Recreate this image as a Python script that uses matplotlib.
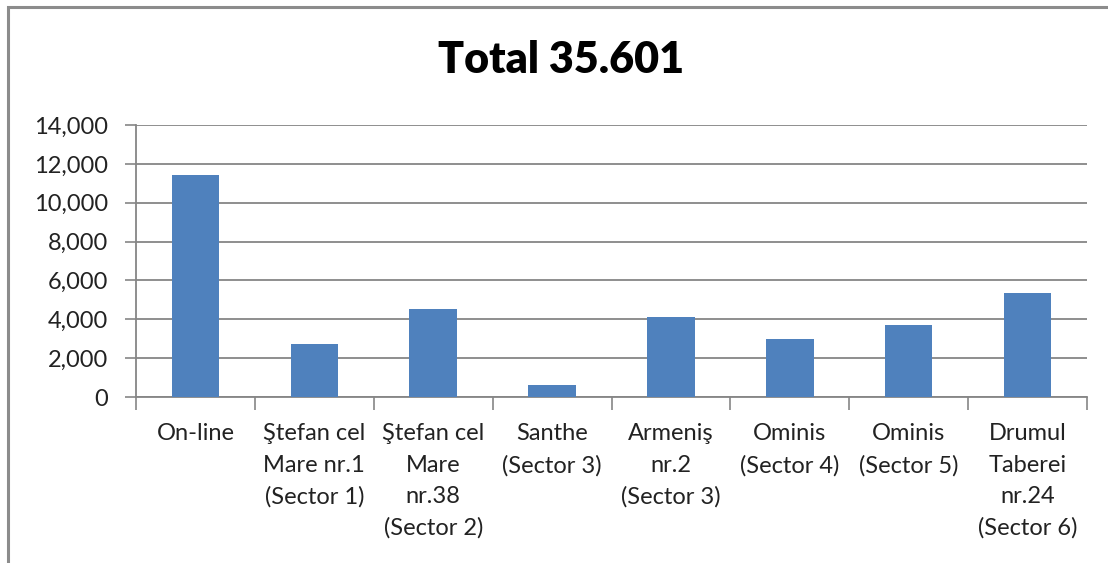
import matplotlib as mpl
mpl.use('Agg')
import matplotlib.pyplot as plt
import matplotlib.patches as patches
from matplotlib.ticker import FuncFormatter

# data
categories = ['On-line', 'Ştefan cel\nMare nr.1\n(Sector 1)', 'Ştefan cel\nMare\nnr.38\n(Sector 2)',
              'Santhe\n(Sector 3)', 'Armeniş\nnr.2\n(Sector 3)', 'Ominis\n(Sector 4)',
              'Ominis\n(Sector 5)', 'Drumul\nTaberei\nnr.24\n(Sector 6)']
values = [11450, 2740, 4520, 630, 4120, 3010, 3730, 5330]
title = 'Total 35.601'

plt.rcParams['font.family'] = ['Lato', 'DejaVu Sans']

W, H = 1108, 563
fig = plt.figure(figsize=(W/100, H/100), dpi=100)

# plot area in pixels: left 136, right 1087, top 125, bottom 397
ax = fig.add_axes([136/W, 1-397/H, (1087-136)/W, (397-125)/H])

grey = '#868686'
x = range(len(categories))
ax.bar(x, values, width=0.4, color='#4F81BD', zorder=3)

ax.set_xlim(-0.5, len(categories)-0.5)
ax.set_ylim(0, 14000)
ax.set_yticks(range(0, 14001, 2000))
ax.yaxis.set_major_formatter(FuncFormatter(lambda v, p: f'{int(v):,}'))
ax.grid(axis='y', color=grey, linewidth=1.3, zorder=0)

ax.set_xticks(list(x))
ax.set_xticklabels(categories, fontsize=17, color='#222222', linespacing=1.6, va='top')
ax.set_xticks([i - 0.5 for i in range(len(categories)+1)], minor=True)
ax.tick_params(axis='x', which='major', length=0, pad=19)
ax.tick_params(axis='x', which='minor', length=9, color=grey, width=1.2)
ax.tick_params(axis='y', length=8, color=grey, width=1.2, labelsize=17, labelcolor='#222222', pad=12)

for s in ['top', 'right']:
    ax.spines[s].set_visible(False)
for s in ['left', 'bottom']:
    ax.spines[s].set_color(grey)
    ax.spines[s].set_linewidth(1.3)

fig.text(561/W, 1-60/H, title, ha='center', va='center', fontsize=31, fontweight='heavy',
         color='black')

# outer chart border (only top and left visible)
fig.add_artist(patches.Rectangle((8/W, -0.1), 1.2, 1.1 - 7/H, transform=fig.transFigure,
                                 fill=False, edgecolor='#8c8c8c', linewidth=2.2))

fig.savefig('out.png', dpi=100)
